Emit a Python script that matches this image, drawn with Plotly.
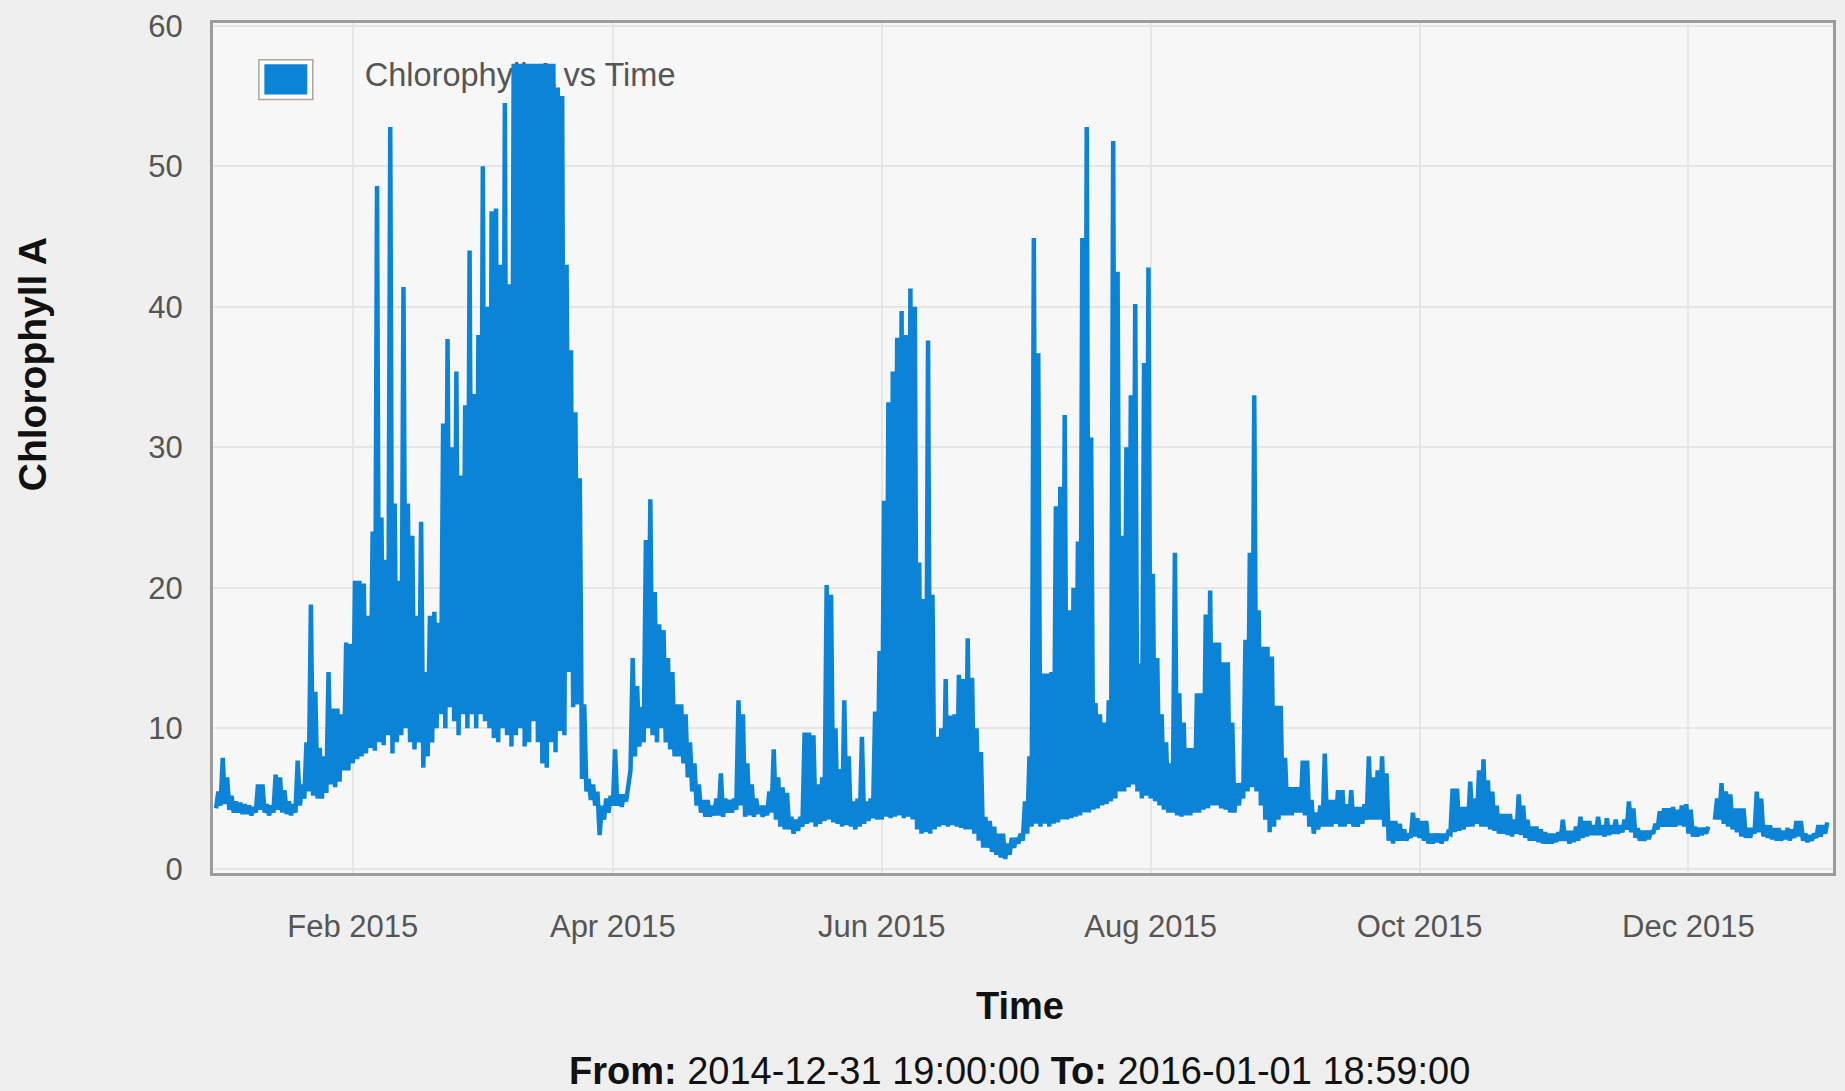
import pandas as pd
import plotly.graph_objects as go

# ---- data: daily low / high of Chlorophyll A ----
lo_jan = [4.3,4.5,4.6,4.2,4.0,4.0,3.9,3.9,3.8,4.0,4.2,4.0,3.8,4.0,4.2,4.0,3.9,3.8,4.0,4.5,5.0,5.5,5.2,5.0,5.0,5.4,6.0,5.8,6.2,7.0,7.0]
hi_jan = [5.5,7.9,6.5,5.2,4.8,4.7,4.6,4.5,4.4,6.0,6.0,4.6,4.5,6.7,6.5,5.6,4.8,4.6,7.7,6.0,9.0,18.8,12.6,8.6,8.0,14.0,11.4,11.4,11.0,16.1,16.0]
lo_feb = [7.5,7.8,8.0,8.2,8.6,8.4,9.0,8.8,9.5,8.2,9.0,9.5,10.0,9.0,8.5,9.0,7.2,8.0,9.0,10.0,11.0,10.0,11.5,10.5,9.5,11.0,10.0,11.0]
hi_feb = [20.5,20.5,20.3,18.0,24.0,48.6,25.0,22.0,52.8,26.0,20.5,41.4,26.0,23.7,18.0,24.7,14.0,18.0,18.3,17.5,31.7,37.7,30.0,35.4,28.0,33.0,44.0,33.8]
lo_mar = [10.0,11.0,10.5,10.0,9.3,9.0,10.0,9.5,8.7,9.5,10.0,8.7,9.0,10.5,9.0,7.5,7.2,9.0,8.3,9.8,9.5,14.0,11.5,11.7,6.4,5.5,4.9,4.5,2.4,3.5,4.0]
hi_mar = [38.0,50.0,40.0,46.8,47.0,43.0,54.5,41.6,57.3,57.3,57.3,57.3,57.3,57.3,57.3,57.3,57.3,57.3,55.6,55.0,43.0,36.9,32.5,27.8,11.7,6.4,6.0,5.5,4.5,5.0,5.2]
lo_apr = [4.5,4.5,4.4,4.8,7.0,8.0,8.7,9.0,10.0,9.5,9.0,10.0,9.0,8.5,8.0,8.0,7.5,6.5,5.5,4.5,4.0,3.7,3.7,3.8,3.8,3.7,4.0,4.0,4.2,4.5]
hi_apr = [8.5,5.3,5.3,6.0,15.0,13.0,11.5,23.4,26.3,19.7,17.4,17.0,15.0,14.0,11.7,11.7,11.0,9.0,7.5,6.0,4.9,4.9,4.5,5.0,6.8,5.0,4.9,5.0,12.0,11.0]
lo_may = [3.7,3.8,3.7,3.9,3.7,3.8,4.0,3.5,3.0,2.8,2.8,2.5,2.7,3.0,3.2,3.3,3.0,3.2,3.4,3.5,3.3,3.2,3.0,3.1,3.0,2.8,3.0,3.2,3.4,3.6,3.5]
hi_may = [7.5,6.0,5.0,4.5,4.5,5.5,8.5,6.5,5.8,5.4,3.7,3.5,3.7,9.7,9.7,9.5,6.0,6.5,20.2,19.5,10.0,7.1,12.0,8.0,4.8,5.0,9.4,4.8,5.0,11.2,15.5]
lo_jun = [3.5,3.7,3.6,3.7,3.8,3.6,3.7,3.5,2.8,2.5,2.6,2.5,2.8,3.0,3.1,3.0,3.1,3.0,2.9,2.8,2.8,2.5,2.0,1.5,1.5,1.2,1.0,0.8,0.7,1.0]
hi_jun = [26.2,33.2,35.4,37.8,39.7,38.0,41.3,40.0,21.8,19.2,37.6,19.5,9.4,10.0,13.5,10.9,11.0,13.8,13.5,16.4,13.6,10.0,8.3,3.7,3.4,3.0,2.5,2.5,1.8,2.2]
lo_jul = [1.5,1.8,2.0,2.5,3.0,3.2,3.0,3.2,3.0,3.2,3.3,3.5,3.5,3.6,3.7,3.8,4.0,4.0,4.2,4.3,4.5,4.6,4.8,5.0,5.5,5.5,5.8,6.0,5.5,5.0,5.2]
hi_jul = [2.2,2.5,4.8,8.0,44.9,36.7,13.9,13.9,14.0,25.8,27.2,32.3,18.4,20.0,23.3,44.9,52.8,30.7,11.8,11.0,10.4,12.0,51.8,42.5,23.7,30.0,33.7,40.2,14.6,36.0,42.8]
lo_aug = [5.0,4.8,4.5,4.2,4.0,4.0,3.8,3.7,3.8,3.8,4.0,4.0,4.2,4.3,4.5,4.5,4.3,4.2,4.0,4.0,4.5,5.0,5.5,5.8,5.5,4.5,3.5,2.6,3.0,3.5,3.8]
hi_aug = [21.0,15.0,11.0,9.0,7.5,22.5,12.5,10.4,8.6,8.6,12.5,12.5,18.1,19.8,16.1,16.1,14.7,14.7,10.4,6.1,6.1,16.3,22.5,33.7,18.4,15.8,15.8,15.1,11.6,11.6,7.9]
lo_sep = [3.8,3.8,4.0,4.0,3.8,3.0,2.5,2.8,3.0,3.0,3.0,3.2,3.0,3.0,3.2,3.0,3.0,3.2,3.5,3.5,3.5,3.5,3.0,2.0,1.8,2.0,2.0,2.0,2.2,2.3]
hi_sep = [5.8,5.8,5.8,7.7,7.7,4.9,4.0,4.5,8.2,4.9,4.9,5.6,5.6,4.6,5.6,4.4,4.4,4.6,8.0,6.5,7.0,8.0,6.8,3.4,3.4,3.2,2.8,2.5,4.0,3.6]
lo_oct = [2.2,2.0,1.8,1.8,1.9,1.8,2.0,2.5,2.6,2.7,2.8,3.0,3.0,3.2,3.0,3.0,2.8,2.7,2.5,2.5,2.4,2.3,2.5,2.4,2.2,2.0,2.0,1.9,1.8,1.8,1.8]
hi_oct = [3.4,3.4,2.5,2.5,2.5,2.5,2.6,5.7,5.7,4.4,4.4,6.2,5.0,7.0,7.8,6.3,5.5,4.5,3.9,3.9,3.9,3.5,5.3,4.5,3.5,3.0,3.0,2.8,2.6,2.5,2.5]
lo_nov = [1.9,2.0,2.0,1.8,1.9,2.0,2.2,2.3,2.4,2.4,2.4,2.3,2.4,2.5,2.5,2.6,2.8,2.6,2.2,2.0,2.0,2.1,2.5,2.8,3.0,3.0,3.0,3.0,3.1,3.0]
hi_nov = [2.6,3.5,2.7,2.7,3.0,3.7,3.4,3.4,3.1,3.7,3.1,3.6,3.1,3.5,3.1,3.5,4.8,4.3,2.9,2.7,2.7,2.7,3.2,4.1,4.3,4.3,4.4,4.2,4.5,4.6]
lo_dec = [2.5,2.3,2.3,2.4,2.5,None,3.5,3.5,3.2,3.0,2.8,2.6,2.3,2.2,2.2,2.5,2.6,2.3,2.2,2.1,2.0,2.0,2.1,2.0,2.2,2.3,2.0,1.9,2.0,2.2,2.3]
hi_dec = [4.2,3.0,2.9,2.9,3.0,None,5.0,6.1,5.5,5.3,4.3,4.3,4.3,2.9,2.9,5.5,5.0,3.1,3.1,2.9,2.9,2.7,2.9,2.8,3.4,3.4,2.5,2.4,2.5,3.1,3.1]
lo_jan16 = [2.5]
hi_jan16 = [3.3]

tick_dates = ["2015-02-01", "2015-04-01", "2015-06-01", "2015-08-01", "2015-10-01", "2015-12-01"]
tick_labels = ["Feb 2015", "Apr 2015", "Jun 2015", "Aug 2015", "Oct 2015", "Dec 2015"]
series_name = "Chlorophyll A vs Time"

lows = lo_jan + lo_feb + lo_mar + lo_apr + lo_may + lo_jun + lo_jul + lo_aug + lo_sep + lo_oct + lo_nov + lo_dec + lo_jan16
highs = hi_jan + hi_feb + hi_mar + hi_apr + hi_may + hi_jun + hi_jul + hi_aug + hi_sep + hi_oct + hi_nov + hi_dec + hi_jan16

start = pd.Timestamp("2015-01-01")
xs, ys = [], []
for d, (lo, hi) in enumerate(zip(lows, highs)):
    t = start + pd.Timedelta(days=d)
    xs += [t, t + pd.Timedelta(hours=12)]
    ys += [lo, hi]

BLUE = "#0B84D8"
x_range = [pd.Timestamp("2014-12-31 07:00"), pd.Timestamp("2016-01-02 19:00")]
y_range = [-0.3, 60.2]

fig = go.Figure()

# legend label drawn first so that the data sits over it (as in the original)
lx = x_range[0] + (x_range[1] - x_range[0]) * 0.0937
ly = y_range[0] + (y_range[1] - y_range[0]) * 0.9357
fig.add_trace(go.Scatter(x=[lx], y=[ly], mode="text", text=[series_name],
                         textposition="middle right",
                         textfont=dict(size=32.5, color="#555555",
                                       family="Liberation Sans, Arial, sans-serif"),
                         hoverinfo="skip", showlegend=False))

fig.add_trace(go.Scatter(x=xs, y=ys, mode="lines", name=series_name,
                         line=dict(color=BLUE, width=4.5),
                         connectgaps=False, showlegend=False))

font_fam = "Liberation Sans, Arial, sans-serif"
fig.update_layout(
    width=1845, height=1091,
    margin=dict(l=213, r=9, t=18, b=218),
    paper_bgcolor="#F0EFEF",
    plot_bgcolor="#F7F7F7",
    font=dict(family=font_fam, color="#555555"),
    showlegend=False,
)
fig.update_xaxes(
    type="date", range=x_range,
    tickvals=tick_dates, ticktext=tick_labels,
    tickfont=dict(size=31, color="#555555"),
    ticks="outside", ticklen=24, tickcolor="rgba(0,0,0,0)",
    showgrid=True, gridcolor="#E6E6E6", gridwidth=2,
    showline=True, linecolor="#9C9C9C", linewidth=3, mirror=True,
    zeroline=False,
)
fig.update_yaxes(
    range=y_range, tickvals=[0, 10, 20, 30, 40, 50, 60],
    tickfont=dict(size=31, color="#555555"),
    ticks="outside", ticklen=21, tickcolor="rgba(0,0,0,0)",
    showgrid=True, gridcolor="#E6E6E6", gridwidth=2,
    showline=True, linecolor="#9C9C9C", linewidth=3, mirror=True,
    zeroline=False,
)

# legend swatch
fig.add_shape(type="rect", xref="paper", yref="paper",
              x0=0.0283, x1=0.0616, y0=0.9099, y1=0.9567,
              fillcolor="#FFFFFF", line=dict(color="#AFA49A", width=1.5))
fig.add_shape(type="rect", xref="paper", yref="paper",
              x0=0.0317, x1=0.0582, y0=0.9160, y1=0.9515,
              fillcolor=BLUE, line=dict(width=0))

fig.add_annotation(text="<b>Time</b>", xref="paper", yref="paper",
                   x=0.498, y=-0.157, showarrow=False,
                   xanchor="center", yanchor="middle",
                   font=dict(size=38, color="#111111"))
fig.add_annotation(text="<b>Chlorophyll A</b>", xref="paper", yref="paper",
                   x=-0.1115, y=0.599, showarrow=False, textangle=-90,
                   xanchor="center", yanchor="middle",
                   font=dict(size=39, color="#111111"))
fig.add_annotation(text="<b>From:</b> 2014-12-31 19:00:00 <b>To:</b> 2016-01-01 18:59:00",
                   xref="paper", yref="paper",
                   x=0.498, y=-0.2327, showarrow=False,
                   xanchor="center", yanchor="middle",
                   font=dict(size=38, color="#111111"))

fig.write_html("out.html", config={"displayModeBar": False},
               post_script="document.body.style.margin='0';")
